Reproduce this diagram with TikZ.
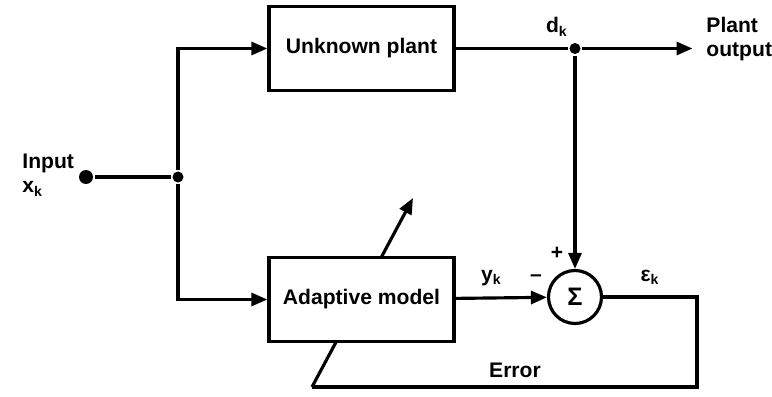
\documentclass[tikz,border=0pt]{standalone}
\usepackage{fontspec}
\setmainfont{Liberation Sans}
\usepackage{tikz}
\usetikzlibrary{positioning, arrows.meta, calc}

\begin{document}
\begin{tikzpicture}[>={Triangle[length=3.2mm, width=2.6mm]}, line width=1.8pt,
    every node/.style={align=center, font=\bfseries\large},
    blockbox/.style={draw, line width=1.9pt, fill=white, minimum width=3.7cm, minimum height=1.68cm},
    junct/.style={circle, fill=black, inner sep=0pt, minimum size=2.2mm}]
    \useasboundingbox (0,0) rectangle (15.44,-7.94);
    % Free ends of the feedback line
    \coordinate (fbcorner) at (6.24,-7.74);
    \coordinate (adjtip) at (8.26,-3.96);
    \coordinate (fbright) at (13.94,-7.74);
    % Adjustment arrow (passes behind the model box)
    \draw[->] (fbcorner) -- (adjtip);
    % Top box
    \node[blockbox] (plant) at (7.23,-0.97) {Unknown plant};
    % Bottom box
    \node[blockbox] (model) at (7.23,-5.99) {Adaptive model};
    % Summing junction
    \node[draw, circle, line width=1.8pt, fill=white, minimum size=1.06cm, inner sep=0pt] (sum) at (11.5,-5.94)
        {\Large Σ};
    % Input and branch points
    \node[circle, fill=black, inner sep=0pt, minimum size=2.8mm] (in) at (1.72,-3.54) {};
    \node[junct] (split) at (3.56,-3.54) {};
    \node[junct] (tap) at (11.5,-0.97) {};
    \node[anchor=west, align=left] (inlabel) at (0.3,-3.5) {Input\\x\textsubscript{k}};
    \node[anchor=west, align=left] (outlabel) at (13.98,-0.78) {Plant\\output};
    \coordinate (outend) at (13.85,-0.97);
    % Arrows
    \draw (in) -- (split);
    \draw[->] (split) |- (plant);
    \draw[->] (split) |- (model);
    \draw (plant) -- (tap) node[midway, above=1mm, xshift=9mm] {d\textsubscript{k}};
    \draw[->] (tap) -- (outend);
    \draw[->] (tap) -- (sum);
    \draw[->] (model) -- (sum) node[midway, above=1mm, xshift=-2mm] {y\textsubscript{k}};
    \draw (sum) -| (fbright) -- (fbcorner);
    % Signs and labels
    \node (plus) at (11.14,-5.06) {+};
    \node (minus) at (10.72,-5.56) {--};
    \node (eps) at (13.0,-5.54) {ε\textsubscript{k}};
    \node (err) at (10.3,-7.4) {Error};
\end{tikzpicture}
\end{document}
